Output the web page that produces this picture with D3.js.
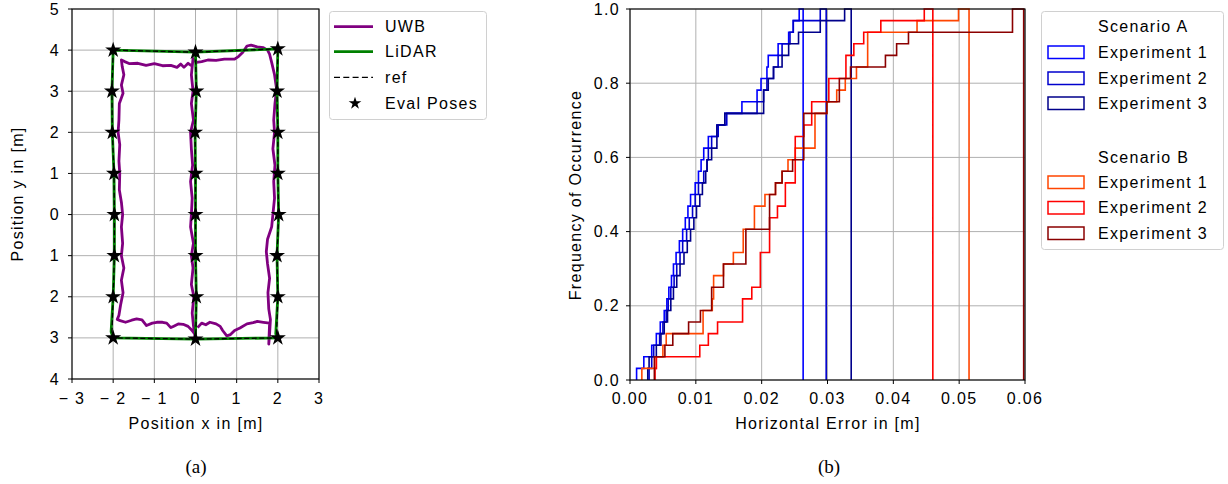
<!DOCTYPE html>
<html><head><meta charset="utf-8">
<script src="https://cdn.jsdelivr.net/npm/d3@7"></script>
<style>
body{margin:0;background:#fff}
svg text{font-family:"Liberation Sans",Arial,Helvetica,sans-serif;fill:#000}
</style>
</head><body>
<svg id="c" width="1228" height="484"></svg>
<script>
// ---------------- DATA ----------------
// (a) trajectory plot
const xTicksA = [-3, -2, -1, 0, 1, 2, 3];
const xTickLabelsA = ["− 3", "− 2", "− 1", "0", "1", "2", "3"];
const yTicksA = [5, 4, 3, 2, 1, 0, -1, -2, -3, -4];
const yTickLabelsA = ["5", "4", "3", "2", "1", "0", "1", "2", "3", "4"];

const uwbX = [-0.10,-0.18,-0.28,-0.36,-0.45,-0.60,-0.80,-1.00,-1.20,-1.40,-1.60,-1.72,-1.80,-1.78,
  -1.74,-1.80,-1.76,-1.85,-1.86,-1.88,-1.84,-1.86,-1.84,-1.85,-1.80,-1.77,-1.80,-1.77,-1.80,-1.74,-1.80,-1.76,-1.82,-1.86,-1.90,
  -1.83,-1.70,-1.55,-1.43,-1.30,-1.19,-1.05,-0.94,-0.80,-0.70,-0.60,-0.54,-0.42,-0.30,-0.18,-0.10,-0.02,0.00,
  -0.05,-0.08,-0.04,-0.10,-0.06,-0.10,-0.05,-0.12,-0.10,-0.08,-0.12,-0.07,-0.10,-0.12,-0.05,-0.10,-0.06,-0.10,-0.06,0.02,
  0.15,0.30,0.50,0.70,0.95,1.05,1.15,1.25,1.35,1.50,1.65,1.75,1.80,
  1.85,1.92,1.97,1.93,1.90,1.92,1.88,1.93,1.90,1.92,1.88,1.85,1.75,1.72,1.75,1.80,1.76,1.78,1.82,1.80,1.78,
  1.80,1.65,1.50,1.40,1.25,1.08,0.95,0.85,0.76,0.66,0.60,0.50,0.35,0.25,0.15,0.05];
const uwbY = [3.62,3.68,3.58,3.66,3.58,3.63,3.62,3.67,3.63,3.68,3.67,3.72,3.76,3.60,
  3.40,3.15,2.95,2.70,2.30,2.00,1.70,1.30,1.00,0.60,0.30,0.00,-0.30,-0.70,-1.00,-1.30,-1.60,-1.90,-2.20,-2.45,-2.55,
  -2.58,-2.62,-2.57,-2.54,-2.56,-2.70,-2.64,-2.62,-2.62,-2.64,-2.75,-2.72,-2.66,-2.67,-2.72,-2.80,-2.90,-3.05,
  -2.70,-2.40,-2.00,-1.70,-1.30,-1.00,-0.70,-0.30,0.00,0.40,0.80,1.20,1.60,2.00,2.30,2.70,3.00,3.40,3.80,3.70,
  3.72,3.76,3.75,3.78,3.78,3.85,3.95,4.10,4.12,4.08,4.06,4.00,3.90,
  3.70,3.40,3.05,2.70,2.30,2.00,1.60,1.20,0.80,0.40,0.00,-0.30,-0.60,-0.90,-1.20,-1.55,-1.90,-2.30,-2.55,-2.90,-3.15,
  -2.64,-2.62,-2.60,-2.63,-2.66,-2.76,-2.82,-2.92,-2.95,-2.82,-2.72,-2.66,-2.62,-2.68,-2.64,-2.75];

const lidarX = [0.00,-2.00,-2.03,-2.02,-1.98,-1.97,-1.97,-2.00,-2.05,-2.00,0.00,0.00,0.02,0.00,0.00,0.00,-0.01,0.02,0.00,2.00,1.98,2.00,2.00,2.02,1.98,2.00,1.95,2.00,0.00];
const lidarY = [3.95,4.00,3.00,2.00,1.00,0.00,-1.00,-2.00,-2.85,-3.00,-3.03,-2.90,-2.00,-1.00,0.00,1.00,2.00,3.00,3.95,4.03,3.00,2.00,1.00,0.00,-1.00,-2.00,-2.90,-3.00,-3.03];

const refX = [0.00,-2.00,-2.03,-2.02,-1.98,-1.97,-1.97,-2.00,-2.03,-2.00,0.00,0.01,0.02,0.00,0.00,0.00,-0.01,0.02,0.00,2.00,1.98,2.00,2.00,2.02,1.98,2.00,1.97,2.00,0.00];
const refY = [3.95,4.00,3.00,2.00,1.00,0.00,-1.00,-2.00,-2.88,-3.00,-3.03,-2.90,-2.00,-1.00,0.00,1.00,2.00,3.00,3.95,4.03,3.00,2.00,1.00,0.00,-1.00,-2.00,-2.90,-3.00,-3.03];

const evalX = [-2.00,-2.03,-2.02,-1.98,-1.97,-1.97,-2.00,-2.00, 0.00,0.02,-0.01,0.00,0.00,0.00,0.02,0.00, 2.00,1.98,2.00,2.00,2.02,1.98,2.00,2.00];
const evalY = [4.00,3.00,2.00,1.00,0.00,-1.00,-2.00,-3.00, 3.95,3.00,2.00,1.00,0.00,-1.00,-2.00,-3.03, 4.03,3.00,2.00,1.00,0.00,-1.00,-2.00,-3.00];

const legendA = ["UWB", "LiDAR", "ref", "Eval Poses"];

// (b) cumulative histogram of horizontal error (32 samples per experiment)
const xTicksB = [0, 0.01, 0.02, 0.03, 0.04, 0.05, 0.06];
const xTickLabelsB = ["0.00", "0.01", "0.02", "0.03", "0.04", "0.05", "0.06"];
const yTicksB = [0, 0.2, 0.4, 0.6, 0.8, 1.0];
const yTickLabelsB = ["0.0", "0.2", "0.4", "0.6", "0.8", "1.0"];

// step positions (m) where the cumulative count rises by one sample, and the last bin edge
const stepsA1 = [0.0010,0.0021,0.0033,0.0040,0.0046,0.0052,0.0056,0.0059,0.0063,0.0066,0.0070,0.0075,0.0080,0.0084,0.0088,0.0092,0.0099,0.0104,0.0108,0.0112,0.0119,0.0132,0.0144,0.0170,0.0193,0.0199,0.0208,0.0210,0.0225,0.0241,0.0248,0.0257];
const stepsA2 = [0.0029,0.0033,0.0036,0.0045,0.0050,0.0055,0.0058,0.0062,0.0067,0.0071,0.0076,0.0080,0.0086,0.0090,0.0095,0.0099,0.0104,0.0112,0.0117,0.0119,0.0124,0.0134,0.0147,0.0193,0.0203,0.0208,0.0218,0.0225,0.0231,0.0243,0.0248,0.0289];
const stepsA3 = [0.0027,0.0029,0.0040,0.0047,0.0052,0.0057,0.0062,0.0066,0.0071,0.0076,0.0082,0.0087,0.0092,0.0097,0.0101,0.0106,0.0110,0.0115,0.0117,0.0124,0.0132,0.0132,0.0144,0.0203,0.0203,0.0210,0.0218,0.0231,0.0241,0.0256,0.0289,0.0326];
const stepsB1 = [0.0018,0.0040,0.0050,0.0055,0.0111,0.0111,0.0125,0.0127,0.0127,0.0142,0.0157,0.0172,0.0172,0.0189,0.0189,0.0205,0.0221,0.0231,0.0240,0.0251,0.0281,0.0281,0.0281,0.0299,0.0314,0.0327,0.0344,0.0361,0.0361,0.0361,0.0436,0.0499];
const stepsB2 = [0.0038,0.0040,0.0106,0.0119,0.0133,0.0171,0.0171,0.0185,0.0198,0.0198,0.0198,0.0212,0.0212,0.0212,0.0224,0.0236,0.0236,0.0251,0.0251,0.0251,0.0251,0.0264,0.0276,0.0276,0.0302,0.0302,0.0328,0.0328,0.0340,0.0355,0.0381,0.0447];
const stepsB3 = [0.0037,0.0037,0.0053,0.0065,0.0089,0.0107,0.0124,0.0124,0.0142,0.0142,0.0176,0.0176,0.0176,0.0212,0.0212,0.0212,0.0221,0.0231,0.0247,0.0264,0.0264,0.0264,0.0264,0.0299,0.0318,0.0318,0.0335,0.0388,0.0405,0.0423,0.0581,0.0581];
const maxErrors = [0.0263, 0.0298, 0.0336, 0.0515, 0.0460, 0.0598];
const seriesNames = ["Experiment 1", "Experiment 2", "Experiment 3", "Experiment 1", "Experiment 2", "Experiment 3"];
const scenarioNames = ["Scenario A", "Scenario B"];

// ---------------- DRAWING ----------------
const svg = d3.select("#c");
const FS = 16, LS = "1.3px";
const gridCol = "#b0b0b0";
const uwbCol = "#800080", lidarCol = "#008000";
const histCols = ["#0000ff", "#0000cd", "#00008b", "#ff4500", "#ff0000", "#8b0000"];

function txt(g, x, y, s, anchor, size) {
  return g.append("text").attr("x", x).attr("y", y).text(s)
    .attr("text-anchor", anchor || "start").attr("dominant-baseline", "central")
    .attr("font-size", size || FS).attr("letter-spacing", LS);
}

// ---- panel (a)
const xa = d3.scaleLinear().domain([-3, 3]).range([72, 319]);
const ya = d3.scaleLinear().domain([-4, 5]).range([379, 9]);
const ga = svg.append("g");
ga.append("g").selectAll("line").data(xTicksA).join("line")
  .attr("x1", d => xa(d)).attr("x2", d => xa(d)).attr("y1", ya(-4)).attr("y2", ya(5))
  .attr("stroke", gridCol).attr("stroke-width", 1);
ga.append("g").selectAll("line").data(yTicksA).join("line")
  .attr("y1", d => ya(d)).attr("y2", d => ya(d)).attr("x1", xa(-3)).attr("x2", xa(3))
  .attr("stroke", gridCol).attr("stroke-width", 1);

const lineA = d3.line().x(d => xa(d[0])).y(d => ya(d[1]));
ga.append("path").datum(d3.zip(uwbX, uwbY)).attr("d", lineA)
  .attr("fill", "none").attr("stroke", uwbCol).attr("stroke-width", 2.8).attr("stroke-linejoin", "round");
ga.append("path").datum(d3.zip(lidarX, lidarY)).attr("d", lineA)
  .attr("fill", "none").attr("stroke", lidarCol).attr("stroke-width", 2.8).attr("stroke-linejoin", "round");
ga.append("path").datum(d3.zip(refX, refY)).attr("d", lineA)
  .attr("fill", "none").attr("stroke", "#000").attr("stroke-width", 1.3).attr("stroke-dasharray", "5,2.5");
const star = d3.symbol().type(d3.symbolStar).size(80);
ga.append("g").selectAll("path").data(d3.zip(evalX, evalY)).join("path")
  .attr("transform", d => `translate(${xa(d[0])},${ya(d[1])})`).attr("d", star()).attr("fill", "#000");

ga.append("rect").attr("x", xa(-3)).attr("y", ya(5)).attr("width", xa(3) - xa(-3)).attr("height", ya(-4) - ya(5))
  .attr("fill", "none").attr("stroke", "#000").attr("stroke-width", 1.1);
// ticks
xTicksA.forEach((t, i) => {
  ga.append("line").attr("x1", xa(t)).attr("x2", xa(t)).attr("y1", ya(-4)).attr("y2", ya(-4) + 4).attr("stroke", "#000");
  txt(ga, xa(t), 398, xTickLabelsA[i], "middle");
});
yTicksA.forEach((t, i) => {
  ga.append("line").attr("x1", xa(-3) - 4).attr("x2", xa(-3)).attr("y1", ya(t)).attr("y2", ya(t)).attr("stroke", "#000");
  txt(ga, 60, ya(t), yTickLabelsA[i], "end");
});
txt(ga, 196, 423, "Position x in [m]", "middle");
txt(ga, 0, 0, "Position y in [m]", "middle").attr("transform", "translate(17,194) rotate(-90)");

// legend (a)
const la = svg.append("g");
la.append("rect").attr("x", 329.5).attr("y", 11.5).attr("width", 157).attr("height", 108).attr("rx", 3)
  .attr("fill", "#fff").attr("stroke", "#d0d0d0");
const legRowsA = [26.7, 51.7, 77.3, 103.3];
la.append("line").attr("x1", 334).attr("x2", 373).attr("y1", legRowsA[0]).attr("y2", legRowsA[0]).attr("stroke", uwbCol).attr("stroke-width", 2.8);
la.append("line").attr("x1", 334).attr("x2", 373).attr("y1", legRowsA[1]).attr("y2", legRowsA[1]).attr("stroke", lidarCol).attr("stroke-width", 2.8);
la.append("line").attr("x1", 334).attr("x2", 373).attr("y1", legRowsA[2]).attr("y2", legRowsA[2]).attr("stroke", "#000").attr("stroke-width", 1.3).attr("stroke-dasharray", "6,3.3");
la.append("path").attr("transform", `translate(355,${legRowsA[3]})`).attr("d", d3.symbol().type(d3.symbolStar).size(50)()).attr("fill", "#000");
legendA.forEach((s, i) => txt(la, 385, legRowsA[i], s, "start"));

// ---- panel (b)
const xb = d3.scaleLinear().domain([0, 0.06]).range([630, 1025]);
const yb = d3.scaleLinear().domain([0, 1]).range([380, 9]);
const gb = svg.append("g");
gb.append("g").selectAll("line").data(xTicksB).join("line")
  .attr("x1", d => xb(d)).attr("x2", d => xb(d)).attr("y1", yb(0)).attr("y2", yb(1))
  .attr("stroke", gridCol).attr("stroke-width", 1);
gb.append("g").selectAll("line").data(yTicksB).join("line")
  .attr("y1", d => yb(d)).attr("y2", d => yb(d)).attr("x1", xb(0)).attr("x2", xb(0.06))
  .attr("stroke", gridCol).attr("stroke-width", 1);

const allSteps = [stepsA1, stepsA2, stepsA3, stepsB1, stepsB2, stepsB3];
const lineB = d3.line().x(d => xb(d[0])).y(d => yb(d[1]));
allSteps.forEach((steps, s) => {
  const n = steps.length;
  const pts = [[steps[0], 0]];
  steps.forEach((e, i) => { pts.push([e, i / n]); pts.push([e, (i + 1) / n]); });
  pts.push([maxErrors[s], 1]); pts.push([maxErrors[s], 0]);
  gb.append("path").datum(pts).attr("d", lineB).attr("fill", "none")
    .attr("stroke", histCols[s]).attr("stroke-width", 1.6).attr("stroke-linejoin", "miter");
});

gb.append("rect").attr("x", xb(0)).attr("y", yb(1)).attr("width", xb(0.06) - xb(0)).attr("height", yb(0) - yb(1))
  .attr("fill", "none").attr("stroke", "#000").attr("stroke-width", 1.1);
xTicksB.forEach((t, i) => {
  gb.append("line").attr("x1", xb(t)).attr("x2", xb(t)).attr("y1", yb(0)).attr("y2", yb(0) + 4).attr("stroke", "#000");
  txt(gb, xb(t), 398, xTickLabelsB[i], "middle");
});
yTicksB.forEach((t, i) => {
  gb.append("line").attr("x1", xb(0) - 4).attr("x2", xb(0)).attr("y1", yb(t)).attr("y2", yb(t)).attr("stroke", "#000");
  txt(gb, 620, yb(t), yTickLabelsB[i], "end");
});
txt(gb, 828, 423, "Horizontal Error in [m]", "middle");
txt(gb, 0, 0, "Frequency of Occurrence", "middle").attr("transform", "translate(575,195) rotate(-90)");

// legend (b)
const lb = svg.append("g");
lb.append("rect").attr("x", 1041.5).attr("y", 11.5).attr("width", 182).attr("height", 238).attr("rx", 3)
  .attr("fill", "#fff").attr("stroke", "#d0d0d0");
const titleRows = [26.7, 157];
const rowsB = [52, 78, 103, 182, 207.5, 233];
scenarioNames.forEach((s, i) => txt(lb, 1098, titleRows[i], s, "start"));
seriesNames.forEach((s, i) => {
  lb.append("rect").attr("x", 1048).attr("y", rowsB[i] - 6).attr("width", 36).attr("height", 12.5)
    .attr("fill", "none").attr("stroke", histCols[i]).attr("stroke-width", 1.5);
  txt(lb, 1098, rowsB[i], s, "start");
});

// captions
svg.append("text").attr("x", 196).attr("y", 466).attr("text-anchor", "middle").attr("dominant-baseline", "central")
  .style("font-family", "'Liberation Serif','Times New Roman',serif").attr("font-size", 19).text("(a)");
svg.append("text").attr("x", 829).attr("y", 466).attr("text-anchor", "middle").attr("dominant-baseline", "central")
  .style("font-family", "'Liberation Serif','Times New Roman',serif").attr("font-size", 19).text("(b)");
</script>
</body></html>
